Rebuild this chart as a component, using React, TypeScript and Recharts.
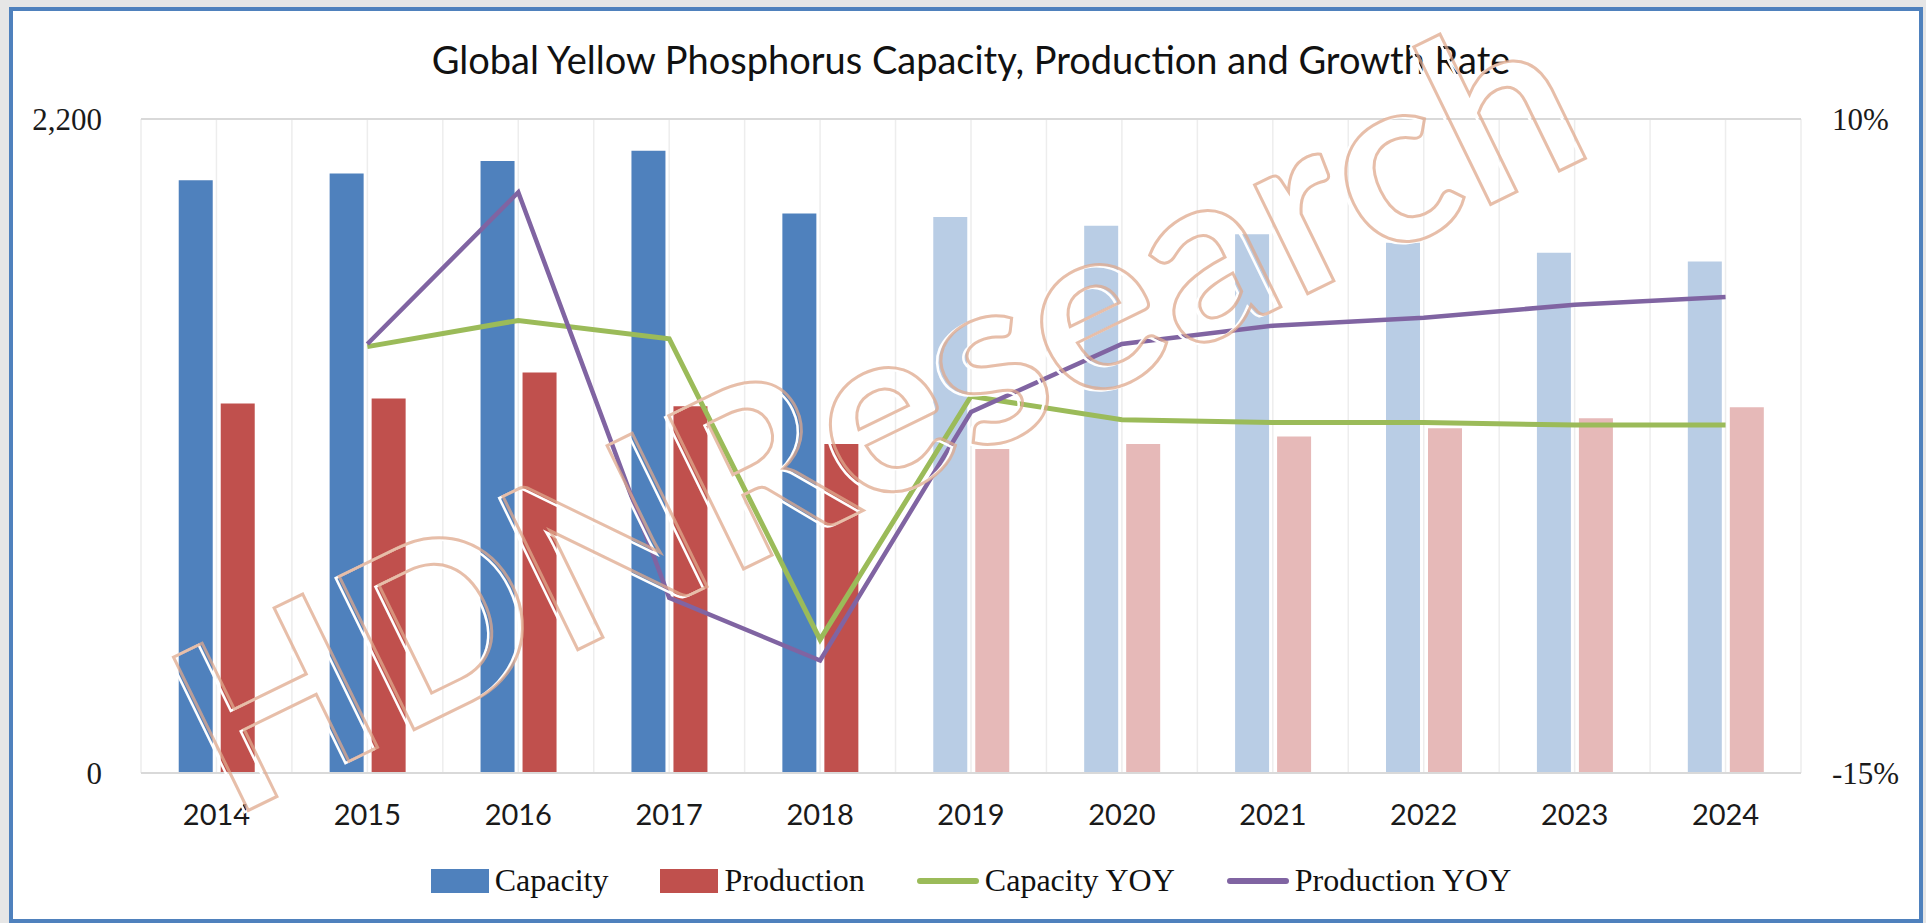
import React from "react";
import {
  ComposedChart,
  Bar,
  Line,
  XAxis,
  YAxis,
  CartesianGrid,
  Legend,
  Cell,
} from "recharts";

const years = ["2014", "2015", "2016", "2017", "2018", "2019", "2020", "2021", "2022", "2023", "2024"];
const capacity = [1994, 2017, 2059, 2093, 1882, 1870, 1841, 1812, 1784, 1750, 1721];
const production = [1243, 1260, 1347, 1234, 1107, 1090, 1107, 1132, 1160, 1193, 1230];
const capacityYoy = [null, 1.3, 2.3, 1.6, -9.9, -0.6, -1.5, -1.6, -1.6, -1.7, -1.7];
const productionYoy = [null, 1.4, 7.2, -8.3, -10.7, -1.2, 1.4, 2.1, 2.4, 2.9, 3.2];
const forecastYears = ["2019", "2020", "2021", "2022", "2023", "2024"];
const leftTicks = [0, 2200];
const rightTicks = [-15, 10];
const seriesOrder = ["Capacity", "Production", "Capacity YOY", "Production YOY"];

const data = years.map((year, i) => ({
  year,
  capacity: capacity[i],
  production: production[i],
  capacityYoy: capacityYoy[i],
  productionYoy: productionYoy[i],
}));

const CAP = "#4F81BD";
const CAP_LIGHT = "#B9CDE5";
const PROD = "#C0504D";
const PROD_LIGHT = "#E6B9B8";
const GREEN = "#9BBB59";
const PURPLE = "#8064A2";

const W = 1926;
const H = 923;

function LegendContent(props: any) {
  const items = [...(props.payload || [])].sort(
    (a: any, b: any) => seriesOrder.indexOf(a.value) - seriesOrder.indexOf(b.value)
  );
  return (
    <div
      style={{
        display: "flex",
        justifyContent: "center",
        alignItems: "center",
        fontFamily: "'Liberation Serif', serif",
        fontSize: 32,
        color: "#111",
      }}
    >
      {items.map((it: any, i: number) => (
        <div
          key={it.value}
          style={{ display: "flex", alignItems: "center", marginRight: i < items.length - 1 ? 52 : 0 }}
        >
          {it.type === "line" ? (
            <div style={{ width: 62, height: 6, borderRadius: 3, background: it.color }} />
          ) : (
            <div style={{ width: 58, height: 24, background: it.color }} />
          )}
          <span style={{ marginLeft: 6 }}>{it.value}</span>
        </div>
      ))}
    </div>
  );
}

const gridColumns = ({ offset }: any) => {
  const left = offset?.left ?? 141;
  const width = offset?.width ?? 1660;
  const step = width / years.length / 2;
  return Array.from({ length: years.length * 2 + 1 }, (_, i) => left + i * step);
};

export default function App() {
  return (
    <div style={{ position: "fixed", left: 0, top: 0, width: W, height: H, background: "#E6E6E6", overflow: "hidden" }}>
      <div
        style={{
          position: "absolute",
          left: 9,
          top: 7,
          width: 1914,
          height: 916,
          border: "4px solid #4F81BD",
          boxSizing: "border-box",
          background: "#fff",
        }}
      />
      <div
        style={{
          position: "absolute",
          left: 141,
          width: 1660,
          top: 38,
          textAlign: "center",
          fontFamily: "Lato, sans-serif",
          fontSize: 38,
          lineHeight: "42px",
          color: "#111",
        }}
      >
        Global Yellow Phosphorus Capacity, Production and Growth Rate
      </div>
      <div style={{ position: "absolute", left: 0, top: 0 }}>
        <ComposedChart
          width={W}
          height={H}
          data={data}
          margin={{ top: 119, right: 0, bottom: 90, left: 0 }}
          barCategoryGap="25%"
          barGap={8}
        >
          <CartesianGrid yAxisId="left" horizontal={false} stroke="#EDEDED" strokeWidth={1.5} verticalCoordinatesGenerator={gridColumns} />
          <CartesianGrid yAxisId="left" vertical={false} stroke="#D9D9D9" strokeWidth={2} />
          <XAxis
            dataKey="year"
            interval={0}
            height={60}
            tickLine={false}
            tickSize={0}
            tickMargin={31}
            axisLine={{ stroke: "#D9D9D9", strokeWidth: 2 }}
            tick={{ fontFamily: "Lato, sans-serif", fontSize: 29, fill: "#1a1a1a" }}
          />
          <YAxis
            yAxisId="left"
            domain={[0, 2200]}
            ticks={leftTicks}
            width={141}
            axisLine={false}
            tickLine={false}
            tickSize={0}
            tickMargin={39}
            tickFormatter={(v: number) => v.toLocaleString("en-US")}
            tick={{ fontFamily: "'Liberation Serif', serif", fontSize: 31, fill: "#1a1a1a" }}
          />
          <YAxis
            yAxisId="right"
            orientation="right"
            domain={[-15, 10]}
            ticks={rightTicks}
            width={125}
            axisLine={false}
            tickLine={false}
            tickSize={0}
            tickMargin={31}
            tickFormatter={(v: number) => `${v}%`}
            tick={{ fontFamily: "'Liberation Serif', serif", fontSize: 31, fill: "#1a1a1a" }}
          />
          <Bar yAxisId="left" dataKey="capacity" name="Capacity" fill={CAP} isAnimationActive={false}>
            {data.map((d) => (
              <Cell key={d.year} fill={forecastYears.includes(d.year) ? CAP_LIGHT : CAP} />
            ))}
          </Bar>
          <Bar yAxisId="left" dataKey="production" name="Production" fill={PROD} isAnimationActive={false}>
            {data.map((d) => (
              <Cell key={d.year} fill={forecastYears.includes(d.year) ? PROD_LIGHT : PROD} />
            ))}
          </Bar>
          <Line
            yAxisId="right"
            type="linear"
            dataKey="capacityYoy"
            name="Capacity YOY"
            stroke={GREEN}
            strokeWidth={5}
            dot={false}
            isAnimationActive={false}
          />
          <Line
            yAxisId="right"
            type="linear"
            dataKey="productionYoy"
            name="Production YOY"
            stroke={PURPLE}
            strokeWidth={4.5}
            dot={false}
            isAnimationActive={false}
          />
          <Legend
            verticalAlign="middle"
            layout="horizontal"
            wrapperStyle={{ position: "absolute", top: 862, left: 141, width: 1660 }}
            content={<LegendContent />}
          />
        </ComposedChart>
      </div>
      {/* HDNResearch watermark */}
      <svg
        width={W}
        height={H}
        style={{ position: "absolute", left: 0, top: 0, pointerEvents: "none" }}
      >
        <g transform="rotate(-26 878 411)">
          <text
            x={874}
            y={494}
            textAnchor="middle"
            textLength={1520}
            lengthAdjust="spacing"
            fontFamily="Lato, sans-serif"
            fontWeight="bold"
            fontSize={236}
            fill="none"
            stroke="#ffffff"
            strokeWidth={2.5}
          >
            HDNResearch
          </text>
          <text
            x={878}
            y={494}
            textAnchor="middle"
            textLength={1520}
            lengthAdjust="spacing"
            fontFamily="Lato, sans-serif"
            fontWeight="bold"
            fontSize={236}
            fill="none"
            stroke="#DFA88C"
            strokeOpacity={0.75}
            strokeWidth={3}
          >
            HDNResearch
          </text>
        </g>
      </svg>
    </div>
  );
}
